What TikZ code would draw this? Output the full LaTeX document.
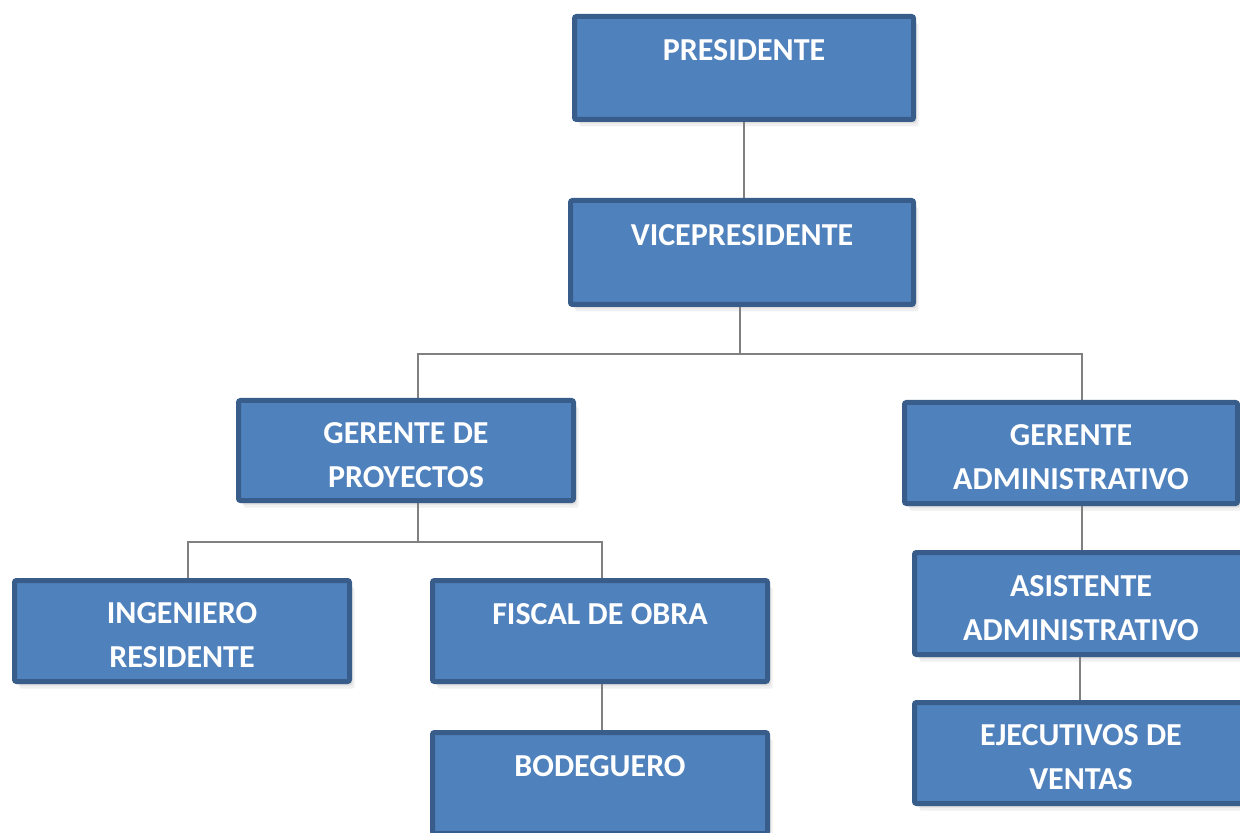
\documentclass[tikz,border=0pt]{standalone}
\usepackage{fontspec}
\setmainfont{Carlito}
\usetikzlibrary{shadows,backgrounds,calc}
\definecolor{boxfill}{HTML}{4F81BD}
\definecolor{boxline}{HTML}{385D8A}
\definecolor{connc}{HTML}{808080}
\newcommand{\topgap}{\mbox{}\\[-7pt]}
\begin{document}
\begin{tikzpicture}[x=0.5pt,y=-0.5pt,
  orgbox/.style={draw=boxline, line width=2.5pt, fill=boxfill, rounded corners=1pt,
    inner sep=0pt, align=center, text=white,
    font=\bfseries\fontsize{16}{22}\selectfont,
    drop shadow={opacity=0.16, shadow xshift=1.5pt, shadow yshift=-2pt},
    drop shadow={opacity=0.12, shadow xshift=2.5pt, shadow yshift=-3.5pt}},
  conn/.style={draw=connc, line width=0.8pt}]
\useasboundingbox (0,0) rectangle (1240,833);
\node[orgbox, minimum width=169.5pt, minimum height=51.5pt] (pres) at (744,68) {\topgap PRESIDENTE\\\mbox{}};
\node[orgbox, minimum width=171.5pt, minimum height=52pt] (vp) at (742,252.5) {\topgap VICEPRESIDENTE\\\mbox{}};
\node[orgbox, minimum width=167.5pt, minimum height=50pt] (gp) at (406,450.5) {\topgap GERENTE DE\\PROYECTOS};
\node[orgbox, minimum width=166.5pt, minimum height=50.5pt] (ga) at (1071,453) {\topgap GERENTE\\ADMINISTRATIVO};
\node[orgbox, minimum width=166.5pt, minimum height=51pt] (aa) at (1081,603.5) {\topgap ASISTENTE\\ADMINISTRATIVO};
\node[orgbox, minimum width=166.5pt, minimum height=50.5pt] (ev) at (1081,753) {\topgap EJECUTIVOS DE\\VENTAS};
\node[orgbox, minimum width=167.5pt, minimum height=50.5pt] (ir) at (182,631) {\topgap INGENIERO\\RESIDENTE};
\node[orgbox, minimum width=167.5pt, minimum height=50.5pt] (fo) at (600,631) {\topgap FISCAL DE OBRA\\\mbox{}};
\node[orgbox, minimum width=167.5pt, minimum height=50.5pt] (bo) at (600,783) {\topgap BODEGUERO\\\mbox{}};
\coordinate (bus1) at (740,354);
\coordinate (bus2) at (418,542);
\begin{scope}[on background layer]
\draw[conn] (pres.south) -- (pres.south |- vp.north);
\draw[conn] (bus1 |- vp.south) -- (bus1);
\draw[conn] (bus1) -| ($(gp.north)+(12,0)$);
\draw[conn] (bus1) -| ($(ga.north)+(11,0)$);
\draw[conn] ($(ga.south)+(11,0)$) -- ($(aa.north)+(1,0)$);
\draw[conn] ($(aa.south)+(-1,0)$) -- ($(ev.north)+(-1,0)$);
\draw[conn] (bus2 |- gp.south) -- (bus2);
\draw[conn] (bus2) -| ($(ir.north)+(6,0)$);
\draw[conn] (bus2) -| ($(fo.north)+(2,0)$);
\draw[conn] ($(fo.south)+(2,0)$) -- ($(bo.north)+(2,0)$);
\end{scope}
\end{tikzpicture}
\end{document}
